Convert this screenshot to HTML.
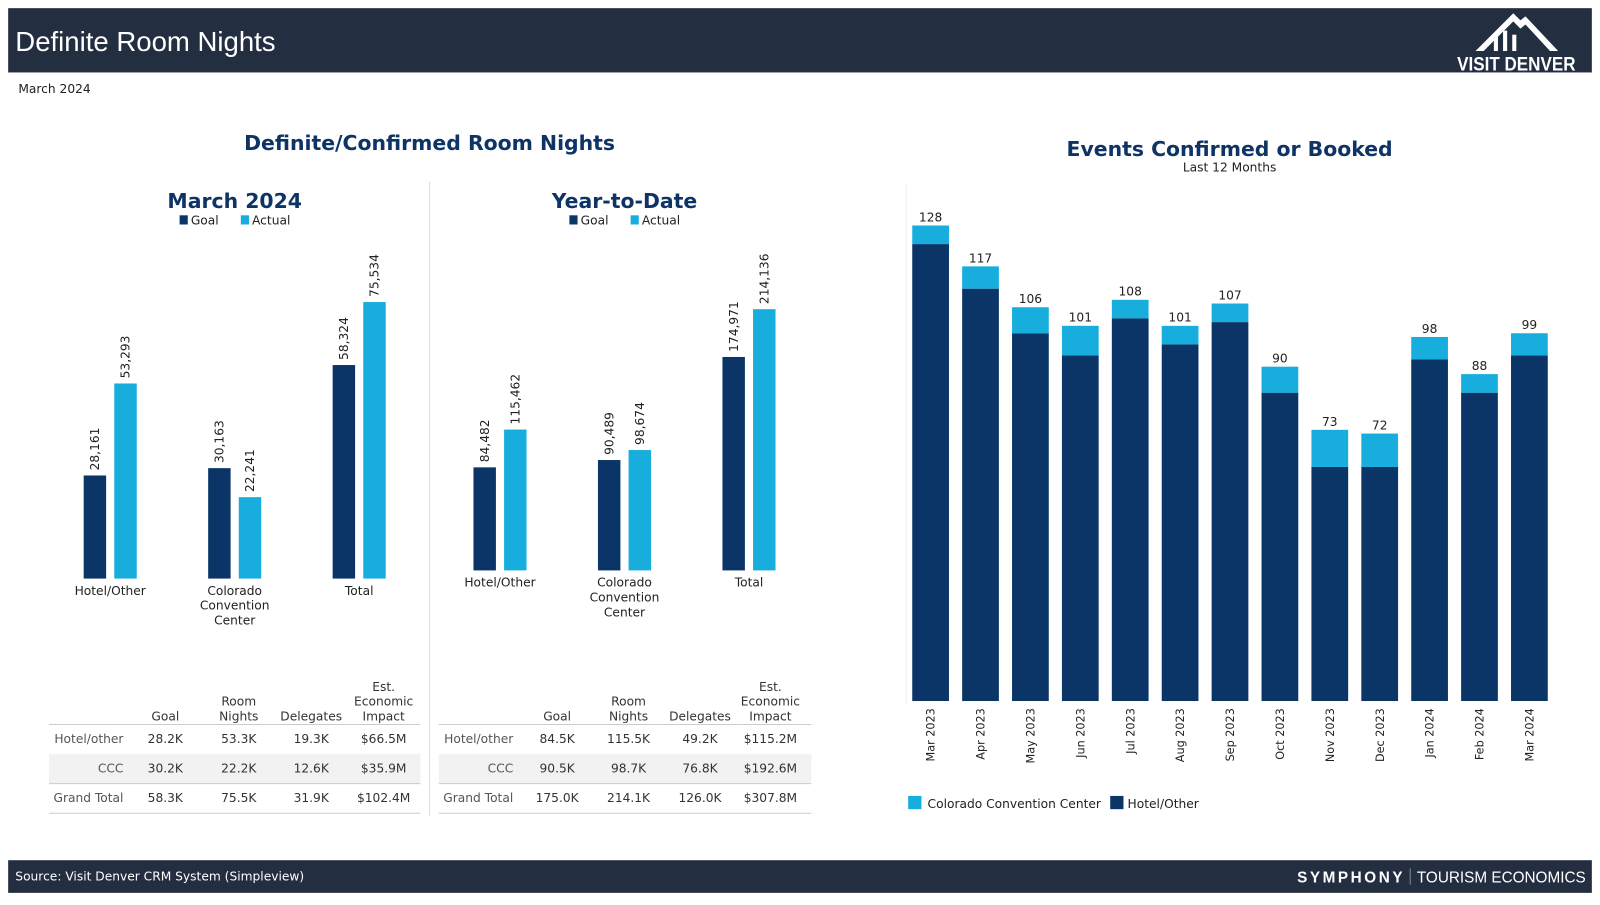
<!DOCTYPE html>
<html><head><meta charset="utf-8">
<style>
html,body{margin:0;padding:0;background:#fff;width:1600px;height:900px;overflow:hidden;font-family:"Liberation Sans",sans-serif}
#wrap{position:absolute;left:0;top:0;width:1568px;height:882px;transform:scale(1.02041);transform-origin:0 0}
svg text{font-family:"DejaVu Sans","Liberation Sans",sans-serif}
</style></head><body>
<div id="wrap">
<svg id="s" width="1568" height="882" viewBox="0 0 1568 882">
<rect x="8" y="8" width="1552" height="63" fill="#232e41"/>
<text x="15" y="50" fill="#fff" font-size="27" style="font-family:'Liberation Sans',sans-serif">Definite Room Nights</text>
<g>
<path d="M1446 50 L1483 13 L1490 20 L1495 16 L1527 50 L1519 50 L1495 24 L1490 28 L1483 21 L1454 50 Z" fill="#fff"/>
<rect x="1464" y="34" width="4" height="16" fill="#fff"/><rect x="1473" y="30" width="4" height="20" fill="#fff"/><rect x="1482" y="34" width="4" height="16" fill="#fff"/>
<text x="1486" y="69" fill="#fff" font-size="19" font-weight="bold" text-anchor="middle" style="font-family:'Liberation Sans',sans-serif" textLength="116" lengthAdjust="spacingAndGlyphs">VISIT DENVER</text>
</g>
<text x="18" y="91" font-size="12" fill="#222">March 2024</text>
<text x="421" y="147" font-size="20" font-weight="bold" fill="#0e3466" text-anchor="middle">Definite/Confirmed Room Nights</text>
<line x1="421" y1="178" x2="421" y2="800" stroke="#ddd"/>
<line x1="888" y1="180" x2="888" y2="690" stroke="#eee"/>
<text x="1205" y="153" font-size="20" font-weight="bold" fill="#0e3466" text-anchor="middle">Events Confirmed or Booked</text>
<text x="1205" y="168" font-size="12" fill="#222" text-anchor="middle">Last 12 Months</text>
<rect x="8" y="843" width="1552" height="32" fill="#232e41"/>
<text x="15" y="863" font-size="12" fill="#fff">Source: Visit Denver CRM System (Simpleview)</text>
<text x="1377" y="865" font-size="15" fill="#fff" font-weight="bold" text-anchor="end" letter-spacing="2.5" style="font-family:'Liberation Sans',sans-serif">SYMPHONY</text>
<line x1="1382" y1="851" x2="1382" y2="867" stroke="#889"/>
<text x="1554" y="865" font-size="15" fill="#fff" text-anchor="end" style="font-family:'Liberation Sans',sans-serif">TOURISM ECONOMICS</text>
</svg>
</div>
<script>
const NAVY="#0b3467", CYAN="#17aede";
const groupCats=["Hotel/Other","Colorado Convention Center","Total"];
const monthGoal=[28161,30163,58324];
const monthActual=[53293,22241,75534];
const ytdGoal=[84482,90489,174971];
const ytdActual=[115462,98674,214136];
const months=["Mar 2023","Apr 2023","May 2023","Jun 2023","Jul 2023","Aug 2023","Sep 2023","Oct 2023","Nov 2023","Dec 2023","Jan 2024","Feb 2024","Mar 2024"];
const eventTotals=[128,117,106,101,108,101,107,90,73,72,98,88,99];
const eventHotel=[123,111,99,93,103,96,102,83,63,63,92,83,93];
const monthTableRows=["Hotel/other","CCC","Grand Total"];
const monthTable=[["28.2K","53.3K","19.3K","$66.5M"],["30.2K","22.2K","12.6K","$35.9M"],["58.3K","75.5K","31.9K","$102.4M"]];
const ytdTable=[["84.5K","115.5K","49.2K","$115.2M"],["90.5K","98.7K","76.8K","$192.6M"],["175.0K","214.1K","126.0K","$307.8M"]];

const s=document.getElementById('s');
const NS="http://www.w3.org/2000/svg";
function mk(tag,attrs,parent){const e=document.createElementNS(NS,tag);for(const k in attrs)e.setAttribute(k,attrs[k]);(parent||s).appendChild(e);return e;}
function txt(str,attrs,parent){const e=mk('text',attrs,parent);e.textContent=str;return e;}
const fmt=n=>n.toLocaleString('en-US');

function groupChart(name,title,cx,titleY,base,maxPx,maxVal,centers,goal,actual,catY){
  const g=mk('g',{});
  
  
  const t=txt(title,{x:cx,y:titleY,'font-size':20,'font-weight':'bold',fill:'#0e3466','text-anchor':'middle'},g);
  
  
  const lg=mk('g',{},g);
  
  
  mk('rect',{x:cx-54,y:titleY+7,width:8,height:9,fill:NAVY},lg);
  txt('Goal',{x:cx-43,y:titleY+16,'font-size':12,fill:'#222'},lg);
  mk('rect',{x:cx+6,y:titleY+7,width:8,height:9,fill:CYAN},lg);
  txt('Actual',{x:cx+17,y:titleY+16,'font-size':12,fill:'#222'},lg);
  const y=v=>base-v/maxVal*maxPx;
  centers.forEach((c,i)=>{
    [[goal[i],c-26,NAVY,'goal'],[actual[i],c+4,CYAN,'actual']].forEach(([v,x,col,k])=>{
      const r=mk('rect',{x:x,y:y(v),width:22,height:base-y(v),fill:col},g);
      
      
      const lx=x+11+4, ly=y(v)-5;
      const l=txt(fmt(v),{x:lx,y:ly,'font-size':12,fill:'#222',transform:`rotate(-90 ${lx} ${ly})`},g);
      
      
    });
    const words=groupCats[i]==="Colorado Convention Center"?["Colorado","Convention","Center"]:[groupCats[i]];
    words.forEach((w,j)=>{
      const cl=txt(w,{x:c,y:catY+j*14.5,'font-size':12,fill:'#222','text-anchor':'middle'},g);
      
      
    });
  });
}
groupChart('march-chart','March 2024',230,204,567,271,75534,[108,230,352],monthGoal,monthActual,583);
groupChart('ytd-chart','Year-to-Date',612,204,559,256,214136,[490,612,734],ytdGoal,ytdActual,575);

function table(name,x0,x1,labelX,cols,data){
  const g=mk('g',{});
  
  
  mk('rect',{x:x0,y:739,width:x1-x0,height:29,fill:'#f2f2f2'},g);
  [710,768,797].forEach(yy=>mk('line',{x1:x0,x2:x1,y1:yy,y2:yy,stroke:'#ccc'},g));
  const heads=[["Goal"],["Room","Nights"],["Delegates"],["Est.","Economic","Impact"]];
  heads.forEach((h,i)=>h.forEach((w,j)=>{
    const ht=txt(w,{x:cols[i],y:706-(h.length-1-j)*14.5,'font-size':12,fill:'#333','text-anchor':'middle'},g);
    
    
  }));
  [728,757,786].forEach((yy,r)=>{
    const rl=txt(monthTableRows[r],{x:labelX,y:yy,'font-size':12,fill:'#555','text-anchor':'end'},g);
    
    
    data[r].forEach((v,i)=>{
      const c=txt(v,{x:cols[i],y:yy,'font-size':12,fill:'#333','text-anchor':'middle'},g);
      
      
    });
  });
}
table('march-table',48,412,121,[162,234,305,376],monthTable);
table('ytd-table',430,795,503,[546,616,686,755],ytdTable);

const eg=mk('g',{});


const eBase=687, ePx=466/128, eX0=894, ePitch=48.9, eW=36;
const ey=v=>eBase-v*ePx;
months.forEach((m,i)=>{
  const x=eX0+i*ePitch;
  const h=mk('rect',{x:x,y:ey(eventHotel[i]),width:eW,height:eBase-ey(eventHotel[i]),fill:NAVY},eg);
  
  
  const c=mk('rect',{x:x,y:ey(eventTotals[i]),width:eW,height:ey(eventHotel[i])-ey(eventTotals[i]),fill:CYAN},eg);
  
  
  const tl=txt(String(eventTotals[i]),{x:x+eW/2,y:ey(eventTotals[i])-4,'font-size':12,fill:'#222','text-anchor':'middle'},eg);
  
  
  const lx=x+eW/2+4, ly=694;
  const xl=txt(m,{x:lx,y:ly,'font-size':11,fill:'#222','text-anchor':'end',transform:`rotate(-90 ${lx} ${ly})`},eg);
  
  
});
const leg=mk('g',{},eg);


mk('rect',{x:890,y:780,width:13,height:13,fill:CYAN},leg);
txt('Colorado Convention Center',{x:909,y:792,'font-size':12,fill:'#222'},leg);
mk('rect',{x:1088,y:780,width:13,height:13,fill:NAVY},leg);
txt('Hotel/Other',{x:1105,y:792,'font-size':12,fill:'#222'},leg);
</script>
</body></html>
